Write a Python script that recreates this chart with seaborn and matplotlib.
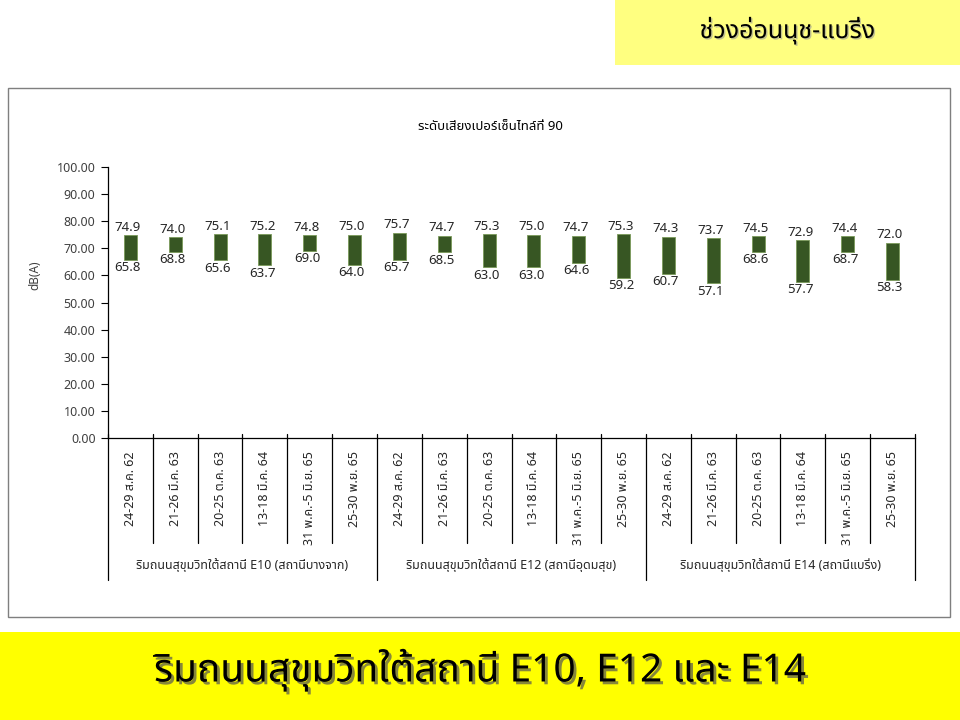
import matplotlib
matplotlib.use("Agg")
import matplotlib.pyplot as plt
import matplotlib.patheffects as pe
from matplotlib import font_manager as fm
from matplotlib.ft2font import FT2Font
from matplotlib.patches import Rectangle
import seaborn as sns
import pandas as pd
import numpy as np

# ---------------- data ----------------
dates = ["24-29 ส.ค. 62", "21-26 มี.ค. 63", "20-25 ต.ค. 63",
         "13-18 มี.ค. 64", "31 พ.ค.-5 มิ.ย. 65", "25-30 พ.ย. 65"]
groups = ["ริมถนนสุขุมวิทใต้สถานี E10 (สถานีบางจาก)",
          "ริมถนนสุขุมวิทใต้สถานี E12 (สถานีอุดมสุข)",
          "ริมถนนสุขุมวิทใต้สถานี E14 (สถานีแบริ่ง)"]
high_e10 = [74.9, 74.0, 75.1, 75.2, 74.8, 75.0]
low_e10 = [65.8, 68.8, 65.6, 63.7, 69.0, 64.0]
high_e12 = [75.7, 74.7, 75.3, 75.0, 74.7, 75.3]
low_e12 = [65.7, 68.5, 63.0, 63.0, 64.6, 59.2]
high_e14 = [74.3, 73.7, 74.5, 72.9, 74.4, 72.0]
low_e14 = [60.7, 57.1, 68.6, 57.7, 68.7, 58.3]
yticks = [0, 10, 20, 30, 40, 50, 60, 70, 80, 90, 100]
chart_title = "ระดับเสียงเปอร์เซ็นไทล์ที่ 90"
y_label = "dB(A)"
corner_title = "ช่วงอ่อนนุช-แบริ่ง"
banner_title = "ริมถนนสุขุมวิทใต้สถานี E10, E12 และ E14"

# ---------------- font with Thai coverage ----------------
def find_thai_family():
    prefs = ["Tahoma", "Noto Sans Thai", "Noto Sans Thai UI", "Leelawadee UI",
             "Loma", "Garuda", "Sarabun", "Waree", "Umpush", "Norasi",
             "Kinnari", "Laksaman", "Noto Looped Thai", "Noto Serif Thai"]
    found = []
    seen = set()
    for f in fm.fontManager.ttflist:
        if f.name in seen:
            continue
        try:
            cm = FT2Font(f.fname).get_charmap()
        except Exception:
            continue
        if 0x0E01 in cm and 0x0E34 in cm:
            found.append(f.name)
            seen.add(f.name)
    for p in prefs:
        if p in found:
            return p
    return found[0] if found else None

sns.set_style("white")
thai = find_thai_family()
fams = ([thai] if thai else []) + ["DejaVu Sans"]
plt.rcParams["font.family"] = fams

# ---------------- frame ----------------
n_per = len(dates)
highs = high_e10 + high_e12 + high_e14
lows = low_e10 + low_e12 + low_e14
df = pd.DataFrame({
    "pos": list(range(len(highs))),
    "high": highs,
    "low": lows,
})
df["span"] = df["high"] - df["low"]

fig = plt.figure(figsize=(9.6, 7.2), dpi=100)
W, H = 960, 720

# top-right yellow box
fig.patches.append(Rectangle((615 / W, 1 - 65 / H), 345 / W, 65 / H,
                             transform=fig.transFigure, facecolor="#FFFF80",
                             edgecolor="none", zorder=-2))
fig.text(787 / W, 1 - 31 / H, corner_title, ha="center", va="center",
         fontsize=18, fontweight="bold", color="black",
         path_effects=[pe.SimplePatchShadow(offset=(1, -1), shadow_rgbFace="#999999", alpha=0.6),
                       pe.Normal()])

# bottom yellow banner
fig.patches.append(Rectangle((0, 0), 1, 88 / H, transform=fig.transFigure,
                             facecolor="#FFFF00", edgecolor="none", zorder=-2))
fig.text(480 / W, 1 - 670 / H, banner_title, ha="center", va="center",
         fontsize=28, fontweight="bold", color="black",
         path_effects=[pe.SimplePatchShadow(offset=(2, -2), shadow_rgbFace="#555555", alpha=0.7),
                       pe.Normal()])

# chart border
fig.patches.append(Rectangle((8 / W, 1 - 617 / H), 942 / W, 529 / H,
                             transform=fig.transFigure, facecolor="white",
                             edgecolor="#7f7f7f", linewidth=1.0, zorder=-2))

fig.text(490 / W, 1 - 126 / H, chart_title, ha="center", va="center",
         fontsize=9.5, fontweight="bold", color="black")
fig.text(35 / W, 1 - 275 / H, y_label, ha="center", va="center",
         rotation=90, fontsize=8.5, color="#404040")

# ---------------- axes ----------------
ax_left, ax_right = 108 / W, 915 / W
ax_bottom, ax_top = 1 - 438 / H, 1 - 167 / H
ax = fig.add_axes([ax_left, ax_bottom, ax_right - ax_left, ax_top - ax_bottom])
ax.set_facecolor("none")

sns.barplot(data=df, x="pos", y="span", bottom=df["low"].values,
            color="#375623", width=0.29, errorbar=None, saturation=1,
            edgecolor="#7a9a5a", linewidth=0.6, ax=ax)

ax.set_ylim(0, 100)
ax.set_xlim(-0.5, len(highs) - 0.5)
ax.set_yticks(yticks)
ax.set_yticklabels([f"{v:.2f}" for v in yticks])
ax.tick_params(axis="y", length=5, width=0.8, color="black", labelsize=9,
               labelcolor="#404040", direction="out", left=True, pad=4)
ax.set_xticks([])
ax.set_xlabel("")
ax.set_ylabel("")
for s in ["top", "right"]:
    ax.spines[s].set_visible(False)
for s in ["left", "bottom"]:
    ax.spines[s].set_color("black")
    ax.spines[s].set_linewidth(0.9)

# value labels
for i, (h, l) in enumerate(zip(highs, lows)):
    ax.annotate(f"{h:.1f}", (i, h), xytext=(-2, 1), textcoords="offset points",
                ha="center", va="bottom", fontsize=9.5, color="#262626")
    ax.annotate(f"{l:.1f}", (i, l), xytext=(-2, -1), textcoords="offset points",
                ha="center", va="top", fontsize=9.5, color="#262626")

# multi-level category axis
axh_px = (ax_top - ax_bottom) * H
def yfrac(py):
    return -(py - 438) / axh_px

trans = ax.get_xaxis_transform()
for k in range(len(highs) + 1):
    xb = k - 0.5
    if k % n_per == 0:
        y_end = yfrac(580)
    else:
        y_end = yfrac(543)
    ax.plot([xb, xb], [yfrac(434), y_end], color="black", lw=0.9,
            transform=trans, clip_on=False)

for g in range(len(groups)):
    for j, d in enumerate(dates):
        i = g * n_per + j
        ax.text(i, yfrac(451), d, rotation=90, ha="center", va="top",
                fontsize=9, color="#262626", transform=trans, clip_on=False)
    ax.text(g * n_per + (n_per - 1) / 2, yfrac(565), groups[g], ha="center",
            va="center", fontsize=9, color="#262626", transform=trans,
            clip_on=False)

fig.savefig("out.png", dpi=100)
